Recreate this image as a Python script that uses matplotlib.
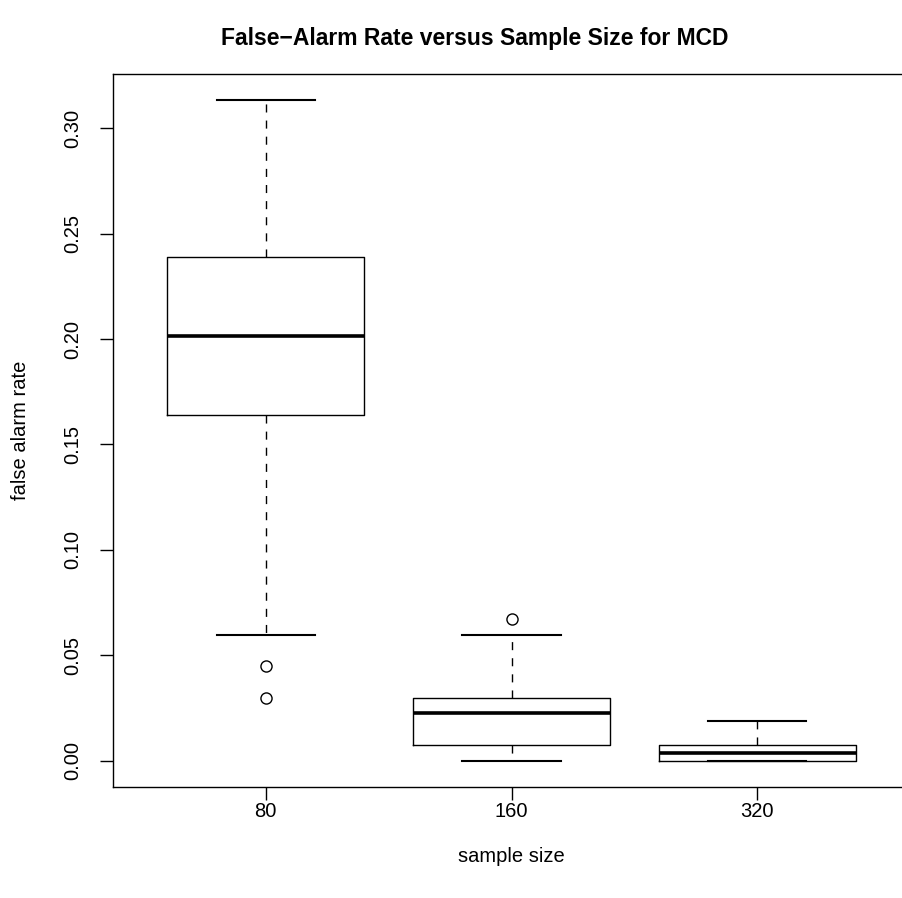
import matplotlib
matplotlib.use("Agg")
import matplotlib.pyplot as plt

plt.rcParams["font.family"] = ["Liberation Sans", "DejaVu Sans"]

# summary statistics of the false alarm rate per sample size
sample_sizes = ["80", "160", "320"]
whisker_low = [0.0597, 0.0, 0.0]
q1 = [0.1642, 0.0075, 0.0]
medians = [0.2015, 0.0224, 0.0037]
q3 = [0.2388, 0.0299, 0.0075]
whisker_high = [0.3134, 0.0597, 0.0187]
outliers = [[0.0448, 0.0299], [0.0672], []]

stats = []
for i, name in enumerate(sample_sizes):
    stats.append({
        "label": name,
        "whislo": whisker_low[i],
        "q1": q1[i],
        "med": medians[i],
        "q3": q3[i],
        "whishi": whisker_high[i],
        "fliers": outliers[i],
    })

fig = plt.figure(figsize=(9.02, 8.98), dpi=100)
ax = fig.add_axes([113.3 / 902, 111 / 898, (909.7 - 113.3) / 902, (787 - 73.7) / 898])

ax.bxp(
    stats,
    positions=[1, 2, 3],
    widths=0.8,
    capwidths=0.4,
    patch_artist=False,
    boxprops=dict(color="black", linewidth=1.0),
    medianprops=dict(color="black", linewidth=2.6, solid_capstyle="butt"),
    whiskerprops=dict(color="black", linewidth=1.0, linestyle=(0, (5.8, 5.8))),
    capprops=dict(color="black", linewidth=1.5),
    flierprops=dict(marker="o", markersize=8, markerfacecolor="none",
                    markeredgecolor="black", markeredgewidth=1.0),
)

ax.set_xlim(0.38, 3.62)
ax.set_ylim(-0.01254, 0.3259)
ax.set_yticks([0.0, 0.05, 0.10, 0.15, 0.20, 0.25, 0.30])
ax.set_yticklabels(["0.00", "0.05", "0.10", "0.15", "0.20", "0.25", "0.30"],
                   rotation=90, va="center")
ax.set_xticks([1, 2, 3])
ax.set_xticklabels(sample_sizes)
ax.tick_params(axis="both", labelsize=14.5, length=9.5, width=1.0)
ax.tick_params(axis="y", pad=13)
ax.tick_params(axis="x", pad=1)
for side in ["top", "bottom", "left", "right"]:
    ax.spines[side].set_linewidth(1.0)

fig.text(511.5 / 902, 1 - 857 / 898, "sample size", ha="center", va="center", fontsize=14.5)
fig.text(21 / 902, 1 - 430 / 898, "false alarm rate", ha="center", va="center",
         rotation=90, fontsize=14.5)
fig.text(475 / 902, 1 - 38 / 898, "False\u2212Alarm Rate versus Sample Size for MCD",
         ha="center", va="center", fontsize=16.5, fontweight="bold")

fig.savefig("out.png", dpi=100)
